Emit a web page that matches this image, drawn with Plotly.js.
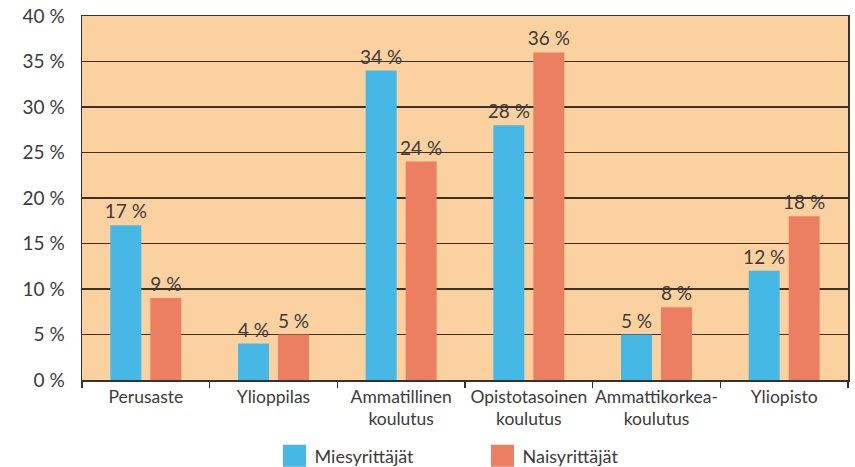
<!DOCTYPE html>
<html><head><meta charset="utf-8">
<script src="https://cdn.plot.ly/plotly-3.0.1.min.js"></script>
<style>html,body{margin:0;padding:0;background:#fff}#chart{width:855px;height:467px}</style>
</head><body><div id="chart"></div>
<script>
const categories = ["Perusaste", "Ylioppilas", "Ammatillinen<br>koulutus", "Opistotasoinen<br>koulutus", "Ammattikorkea-<br>koulutus", "Yliopisto"];
const seriesNames = ["Miesyrittäjät", "Naisyrittäjät"];
const miesValues = [17, 4, 34, 28, 5, 12];
const naisValues = [9, 5, 24, 36, 8, 18];
const yTickVals = [0, 5, 10, 15, 20, 25, 30, 35, 40];
const yTickText = ["0 %", "5 %", "10 %", "15 %", "20 %", "25 %", "30 %", "35 %", "40 %"];

const FONT = "Lato, 'Open Sans', sans-serif";
const TXT = "#3b3b3b";

function barTrace(name, vals, color) {
  return {
    type: "bar", name: name, x: categories, y: vals,
    marker: {color: color, line: {width: 0}},
    text: vals.map(v => v + " %"), textposition: "outside", cliponaxis: false,
    constraintext: "none",
    textfont: {family: FONT, size: 19, color: TXT},
    hoverinfo: "skip"
  };
}

const data = [
  barTrace(seriesNames[0], miesValues, "#46B8E6"),
  barTrace(seriesNames[1], naisValues, "#EC7F62")
];

const layout = {
  width: 855, height: 467,
  margin: {l: 82, r: 7, t: 16, b: 87, autoexpand: false},
  paper_bgcolor: "#ffffff", plot_bgcolor: "#FBD19F",
  font: {family: FONT, size: 18, color: TXT},
  bargap: 0.3735, bargroupgap: 0.225,
  showlegend: true,
  legend: {orientation: "h", x: 0.2513, xanchor: "left", y: -0.209, yanchor: "middle",
           font: {family: FONT, size: 18, color: TXT}, entrywidth: 163, entrywidthmode: "pixels",
           bgcolor: "rgba(0,0,0,0)"},
  xaxis: {type: "category", tickson: "boundaries", ticks: "outside", ticklen: 6, tickcolor: "#333",
          tickwidth: 1.5, showline: true, linecolor: "#333", linewidth: 1.5, mirror: true,
          tickangle: 0, automargin: false,
          showgrid: false, fixedrange: true, tickfont: {family: FONT, size: 17.5, color: TXT}},
  yaxis: {range: [0, 40], tickvals: yTickVals, ticktext: yTickText, ticks: "",
          showgrid: true, gridcolor: "#3a3128", gridwidth: 1.5, zeroline: false,
          showline: true, linecolor: "#333", linewidth: 1.5, mirror: true, automargin: false,
          ticklabelstandoff: 12, fixedrange: true, tickfont: {family: FONT, size: 19, color: TXT}}
};

function fixLegend() {
  document.querySelectorAll(".legendpoints path").forEach(p => {
    p.setAttribute("d", "M11.5,11H-11.5V-11H11.5Z");
  });
}

Plotly.newPlot("chart", data, layout, {displayModeBar: false, staticPlot: true}).then(() => {
  fixLegend();
  setTimeout(fixLegend, 50);
});
</script></body></html>
